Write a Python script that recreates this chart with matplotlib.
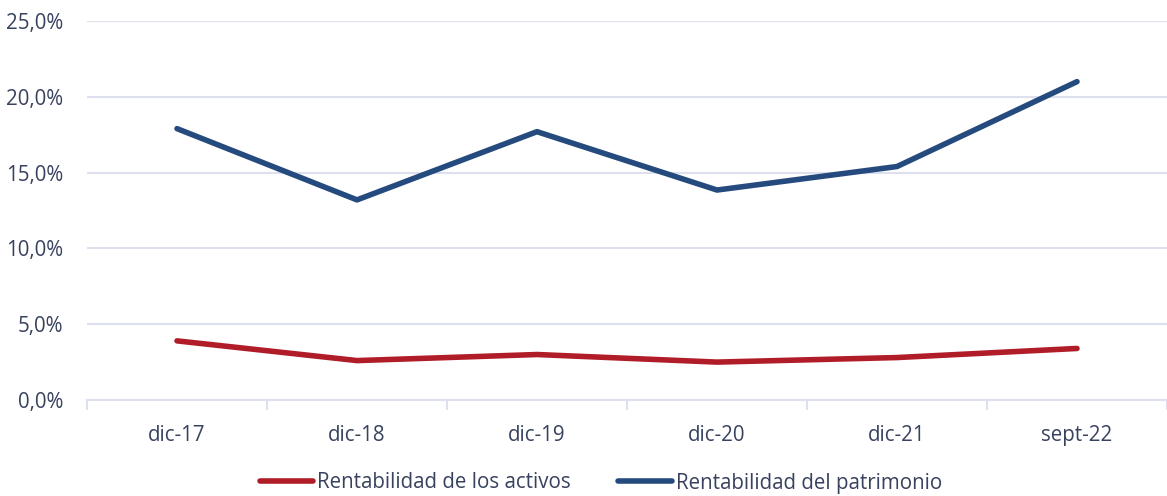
import numpy as np
import matplotlib.pyplot as plt
from matplotlib.ticker import FuncFormatter

categories = ['dic-17', 'dic-18', 'dic-19', 'dic-20', 'dic-21', 'sept-22']
roa = [3.9, 2.6, 3.0, 2.5, 2.8, 3.4]
roe = [17.9, 13.2, 17.7, 13.85, 15.4, 21.0]

plt.rcParams['font.family'] = ['Open Sans', 'DejaVu Sans']
txt = '#38425f'
grid = '#dde0ef'

fig = plt.figure(figsize=(11.67, 4.96), dpi=100)
ax = fig.add_axes([87/1167, 96/496, 1 - 87/1167, 379/496])

x = np.arange(len(categories))
ax.plot(x, roa, color='#b01c27', lw=4, solid_capstyle='round', label='Rentabilidad de los activos')
ax.plot(x, roe, color='#254a7e', lw=4, solid_capstyle='round', label='Rentabilidad del patrimonio')

ax.set_ylim(0, 25)
ax.set_yticks(np.arange(0, 26, 5))
ax.yaxis.set_major_formatter(FuncFormatter(lambda v, p: f'{v:.1f}%'.replace('.', ',')))
ax.set_xlim(-0.5, len(categories) - 0.5)
ax.set_xticks(x)
ax.set_xticklabels(categories)
ax.set_xticks(np.arange(-0.5, len(categories), 1), minor=True)
ax.tick_params(axis='x', which='major', length=0, pad=18, labelsize=14.8, labelcolor=txt)
ax.tick_params(axis='x', which='minor', length=7, width=1.5, color=grid)
ax.tick_params(axis='y', length=0, pad=17, labelsize=14.8, labelcolor=txt)
ax.grid(axis='y', color=grid, lw=1.5)
ax.set_axisbelow(True)
for s in ['top', 'right', 'left']:
    ax.spines[s].set_visible(False)
ax.spines['bottom'].set_color(grid)
ax.spines['bottom'].set_linewidth(1.5)

fig.legend(loc='center', bbox_to_anchor=(601/1167, 1 - 483/496), ncol=2, frameon=False,
           fontsize=14.8, labelcolor=txt, handlelength=2.6, handletextpad=0.2,
           columnspacing=2.3)

fig.savefig('out.png', dpi=100)
